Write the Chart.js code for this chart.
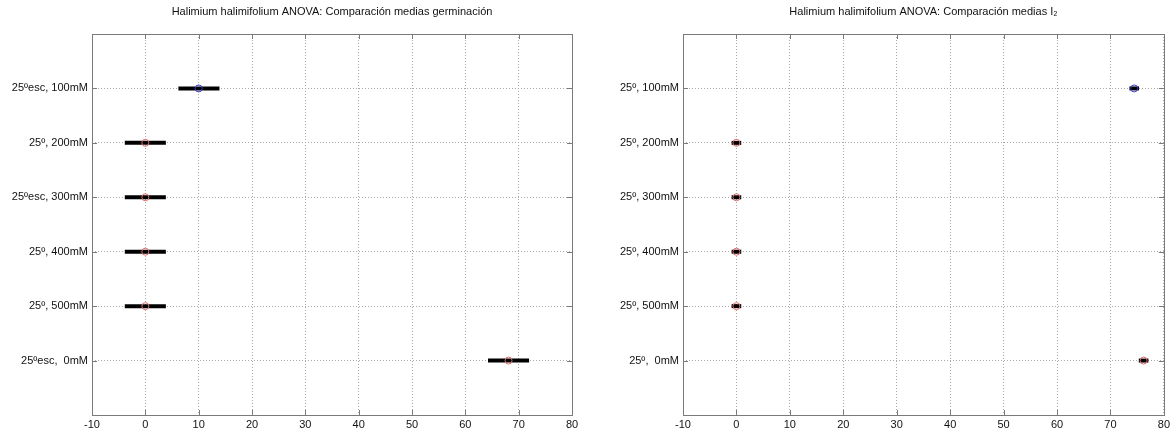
<!DOCTYPE html>
<html>
<head>
<meta charset="utf-8">
<title>Halimium halimifolium ANOVA</title>
<script src="https://cdn.jsdelivr.net/npm/chart.js@4/dist/chart.umd.min.js"></script>
<style>
  html, body { margin: 0; padding: 0; background: #fff; }
  #wrap { position: relative; width: 1173px; height: 430px; overflow: hidden; }
  canvas { position: absolute; top: 0; }
  #germ { left: 0; }
  #i2 { left: 586px; }
</style>
</head>
<body>
<div id="wrap">
  <canvas id="germ" width="586" height="430"></canvas>
  <canvas id="i2" width="587" height="430"></canvas>
</div>
<script>
// Group labels, top to bottom (row 1 .. 6)
const germLabels = ['25ºesc, 100mM', '25º, 200mM', '25ºesc, 300mM', '25º, 400mM', '25º, 500mM', '25ºesc,  0mM'];
const germMeans = [10, 0, 0, 0, 0, 68.1];
const germLow = [6.2, -3.85, -3.85, -3.85, -3.85, 64.25];
const germHigh = [13.9, 3.85, 3.85, 3.85, 3.85, 71.95];

const i2Labels = ['25º, 100mM', '25º, 200mM', '25º, 300mM', '25º, 400mM', '25º, 500mM', '25º,  0mM'];
const i2Means = [74.45, 0, 0, 0, 0, 76.2];
const i2Low = [73.55, -0.9, -0.9, -0.9, -0.9, 75.3];
const i2High = [75.35, 0.9, 0.9, 0.9, 0.9, 77.1];

// index of the highlighted (blue) group
const selected = 0;

const xTicks = [-10, 0, 10, 20, 30, 40, 50, 60, 70, 80];

const FONT = 'Arial, "Liberation Sans", sans-serif';
const AXIS = '#7a7a7a';

// MATLAB-style box + inward tick marks on all four sides, title over the axes
const boxPlugin = {
  id: 'box',
  afterDraw(chart, args, opts) {
    const { ctx, chartArea: a, scales } = chart;
    ctx.save();
    ctx.strokeStyle = AXIS;
    ctx.lineWidth = 1;
    ctx.beginPath();
    scales.x.ticks.forEach((t) => {
      const px = Math.round(scales.x.getPixelForValue(t.value)) + 0.5;
      ctx.moveTo(px, a.bottom); ctx.lineTo(px, a.bottom - 5);
      ctx.moveTo(px, a.top); ctx.lineTo(px, a.top + 5);
    });
    scales.y.ticks.forEach((t) => {
      const py = Math.round(scales.y.getPixelForValue(t.value)) + 0.5;
      ctx.moveTo(a.left, py); ctx.lineTo(a.left + 5, py);
      ctx.moveTo(a.right, py); ctx.lineTo(a.right - 5, py);
    });
    ctx.stroke();
    ctx.strokeRect(Math.round(a.left) + 0.5, Math.round(a.top) + 0.5,
      Math.round(a.right - a.left), Math.round(a.bottom - a.top));

    ctx.fillStyle = '#111';
    ctx.font = '11px ' + FONT;
    ctx.textAlign = 'center';
    ctx.textBaseline = 'middle';
    ctx.fillText(opts.text, (a.left + a.right) / 2, 12);
    ctx.restore();
  },
};

function makeChart(id, title, labels, means, low, high, yWidth, padRight) {
  const datasets = [];
  labels.forEach((_, i) => {
    datasets.push({
      type: 'line',
      data: [{ x: low[i], y: i + 1 }, { x: high[i], y: i + 1 }],
      borderColor: '#000',
      borderWidth: 4,
      borderCapStyle: 'butt',
      pointRadius: 0,
      fill: false,
      order: 2,
    });
  });
  datasets.push({
    type: 'scatter',
    data: means.map((m, i) => ({ x: m, y: i + 1 })),
    pointRadius: 3.5,
    pointBorderWidth: 1,
    pointBackgroundColor: 'rgba(0,0,0,0)',
    pointBorderColor: means.map((_, i) => (i === selected ? '#3a3ad0' : '#e06a6a')),
    order: 1,
  });

  return new Chart(document.getElementById(id), {
    type: 'scatter',
    data: { datasets },
    options: {
      responsive: false,
      animation: false,
      events: [],
      layout: { padding: { left: 0, right: padRight, top: 34, bottom: 0 } },
      plugins: {
        legend: { display: false },
        tooltip: { enabled: false },
        title: { display: false },
        box: { text: title },
      },
      scales: {
        x: {
          type: 'linear',
          min: -10,
          max: 80,
          afterBuildTicks: (s) => { s.ticks = xTicks.map((v) => ({ value: v })); },
          afterFit: (s) => { s.height = 15; },
          ticks: { color: '#111', font: { family: FONT, size: 11 }, padding: 3, maxRotation: 0 },
          grid: { color: '#a8a8a8', drawTicks: false },
          border: { display: false, dash: [1, 2] },
        },
        y: {
          type: 'linear',
          min: 0,
          max: 7,
          reverse: true,
          afterBuildTicks: (s) => { s.ticks = labels.map((_, i) => ({ value: i + 1 })); },
          afterFit: (s) => { s.width = yWidth; },
          ticks: {
            color: '#111',
            font: { family: FONT, size: 11 },
            padding: 4,
            callback: (v) => labels[v - 1] || '',
          },
          grid: { color: '#a8a8a8', drawTicks: false },
          border: { display: false, dash: [1, 2] },
        },
      },
    },
    plugins: [boxPlugin],
  });
}

makeChart('germ', 'Halimium halimifolium ANOVA: Comparación medias germinación',
  germLabels, germMeans, germLow, germHigh, 92, 14);
makeChart('i2', 'Halimium halimifolium ANOVA: Comparación medias I₂',
  i2Labels, i2Means, i2Low, i2High, 97, 5);
</script>
</body>
</html>
